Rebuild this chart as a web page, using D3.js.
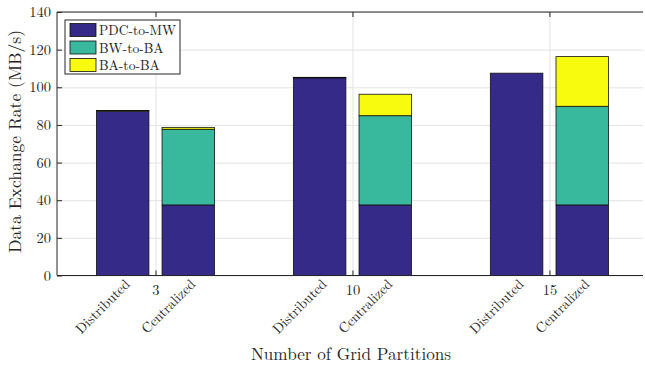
<!DOCTYPE html>
<html>
<head>
<meta charset="utf-8">
<script src="https://cdn.jsdelivr.net/npm/d3@7"></script>
<style>
  html, body { margin: 0; padding: 0; background: #fff; }
  svg text { font-family: "Latin Modern Roman", "CMU Serif", "Liberation Serif", "DejaVu Serif", serif; fill: #262626; }
</style>
</head>
<body>
<svg id="chart" width="645" height="367"></svg>
<script>
// Bar slots: Distributed / Centralized per partition count, with an empty slot between groups
const slotLabels = ["Distributed", "Centralized", "", "Distributed", "Centralized", "", "Distributed", "Centralized"];
const partitionTicks = [1.5, 4.5, 7.5];
const partitionLabels = ["3", "10", "15"];

// Stacked series (MB/s)
const seriesNames = ["PDC-to-MW", "BW-to-BA", "BA-to-BA"];
const pdcToMw = [87.3, 37.5, 0, 105.0, 37.5, 0, 107.5, 37.5];
const bwToBa  = [0, 40.2, 0, 0, 47.4, 0, 0, 52.4];
const baToBa  = [0.4, 1.0, 0, 0.3, 11.4, 0, 0, 26.4];
const seriesColors = ["#352a87", "#38b89d", "#f9fb0e"];

const yTicks = [0, 20, 40, 60, 80, 100, 120, 140];

const rows = slotLabels.map((label, i) => ({
  slot: i + 1,
  label,
  "PDC-to-MW": pdcToMw[i],
  "BW-to-BA": bwToBa[i],
  "BA-to-BA": baToBa[i]
}));

const svg = d3.select("#chart");
const plotLeft = 57, plotRight = 643, plotTop = 12, plotBottom = 275.5;

const x = d3.scaleLinear().domain([0, 8.925]).range([plotLeft, plotRight]);
const y = d3.scaleLinear().domain([0, 140]).range([plotBottom, plotTop]);
const color = d3.scaleOrdinal().domain(seriesNames).range(seriesColors);
const barWidth = 0.8;

// grid lines
svg.append("g")
  .attr("transform", `translate(${plotLeft},0)`)
  .call(d3.axisLeft(y).tickValues(yTicks).tickSize(-(plotRight - plotLeft)).tickFormat(""))
  .call(g => g.select(".domain").remove())
  .call(g => g.selectAll("line").attr("stroke", "#e3e3e3").attr("stroke-width", 1));
svg.append("g")
  .attr("transform", `translate(0,${plotBottom})`)
  .call(d3.axisBottom(x).tickValues(partitionTicks).tickSize(-(plotBottom - plotTop)).tickFormat(""))
  .call(g => g.select(".domain").remove())
  .call(g => g.selectAll("line").attr("stroke", "#e3e3e3").attr("stroke-width", 1));

// stacked bars
const stacked = d3.stack().keys(seriesNames)(rows);
svg.append("g")
  .selectAll("g")
  .data(stacked)
  .join("g")
  .attr("fill", d => color(d.key))
  .selectAll("rect")
  .data(d => d)
  .join("rect")
  .attr("x", d => x(d.data.slot - barWidth / 2))
  .attr("width", d => x(barWidth) - x(0))
  .attr("y", d => y(d[1]))
  .attr("height", d => y(d[0]) - y(d[1]))
  .attr("stroke", d => d.data.label === "" ? "#888" : "#111")
  .attr("stroke-width", 0.8);

// axes
const axisColor = "#262626";
svg.append("g")
  .attr("transform", `translate(${plotLeft},0)`)
  .call(d3.axisLeft(y).tickValues(yTicks).tickSize(-5).tickPadding(6))
  .call(g => g.select(".domain").attr("stroke", axisColor).attr("d", `M0,${plotBottom}V${plotTop}`))
  .call(g => g.selectAll("line").attr("stroke", axisColor))
  .call(g => g.selectAll("text").attr("font-size", 14.5).attr("fill", axisColor));

svg.append("g")
  .attr("transform", `translate(0,${plotBottom})`)
  .call(d3.axisBottom(x).tickValues(partitionTicks).tickSize(-5).tickPadding(9)
    .tickFormat((d, i) => partitionLabels[i]))
  .call(g => g.select(".domain").attr("stroke", axisColor).attr("d", `M${plotLeft},0H${plotRight}`))
  .call(g => g.selectAll("line").attr("stroke", axisColor))
  .call(g => g.selectAll("text").attr("font-size", 14.5).attr("fill", axisColor));

svg.append("g")
  .attr("transform", `translate(0,${plotTop})`)
  .call(d3.axisTop(x).tickValues(partitionTicks).tickSize(-5).tickFormat(""))
  .call(g => g.select(".domain").attr("stroke", axisColor).attr("d", `M${plotLeft},0H${plotRight}`))
  .call(g => g.selectAll("line").attr("stroke", axisColor));

// rotated mode labels under each bar
svg.append("g")
  .selectAll("text")
  .data(rows.filter(d => d.label !== ""))
  .join("text")
  .attr("transform", d => `translate(${x(d.slot) + 8},285) rotate(-45)`)
  .attr("text-anchor", "end")
  .attr("font-size", 14)
  .text(d => d.label);

// axis titles
svg.append("text")
  .attr("x", 351)
  .attr("y", 360)
  .attr("text-anchor", "middle")
  .attr("font-size", 17)
  .attr("textLength", 200)
  .attr("lengthAdjust", "spacingAndGlyphs")
  .text("Number of Grid Partitions");

svg.append("text")
  .attr("transform", `translate(21,141.5) rotate(-90)`)
  .attr("text-anchor", "middle")
  .attr("font-size", 17)
  .attr("textLength", 223)
  .attr("lengthAdjust", "spacingAndGlyphs")
  .text("Data Exchange Rate (MB/s)");

// legend
const legend = svg.append("g").attr("transform", "translate(65,20)");
legend.append("rect")
  .attr("width", 115).attr("height", 54)
  .attr("fill", "#fff").attr("stroke", axisColor).attr("stroke-width", 1);
const item = legend.selectAll("g.item")
  .data(seriesNames)
  .join("g")
  .attr("class", "item")
  .attr("transform", (d, i) => `translate(5,${3.5 + i * 17.5})`);
item.append("rect")
  .attr("width", 26).attr("height", 13)
  .attr("fill", d => color(d)).attr("stroke", "#111").attr("stroke-width", 0.8);
item.append("text")
  .attr("x", 29).attr("y", 11.5)
  .attr("font-size", 13.6)
  .text(d => d);
</script>
</body>
</html>
